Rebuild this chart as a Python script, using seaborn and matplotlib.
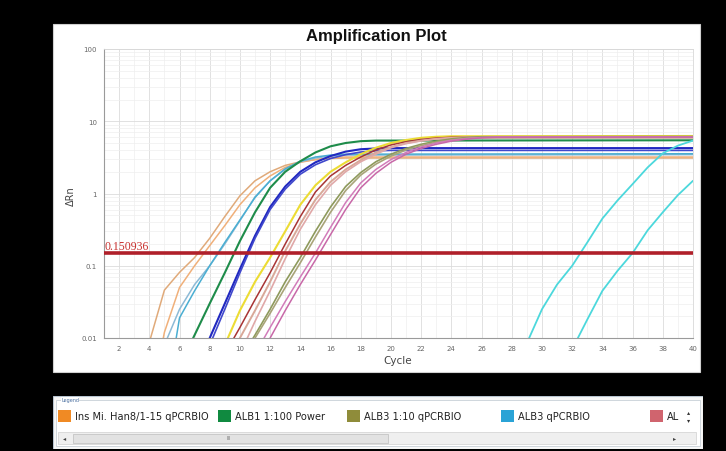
import matplotlib
matplotlib.use("Agg")
import matplotlib.pyplot as plt
import seaborn as sns
import pandas as pd
from matplotlib.patches import Rectangle

# ---------------- data (ΔRn) ----------------
# each list starts at the given cycle, one value per cycle; the last value is ΔRn at cycle 40
ins_a_start = 4
ins_a = [0.0087, 0.046, 0.081, 0.13, 0.24, 0.48, 0.93, 1.5, 2.0, 2.45, 2.75, 2.95, 3.05, 3.1, 3.1]
ins_b_start = 4
ins_b = [0.001, 0.012, 0.05, 0.1, 0.19, 0.36, 0.7, 1.2, 1.75, 2.3, 2.7, 2.95, 3.1, 3.2, 3.2]
alb3q_a_start = 5
alb3q_a = [0.008, 0.025, 0.055, 0.1, 0.2, 0.42, 0.9, 1.5, 2.15, 2.75, 3.1, 3.3, 3.4, 3.45]
alb3q_b_start = 5
alb3q_b = [0.001, 0.019, 0.045, 0.1, 0.21, 0.43, 0.88, 1.5, 2.2, 2.8, 3.2, 3.4, 3.5, 3.55]
alb1_start = 6
alb1 = [0.004, 0.011, 0.03, 0.08, 0.22, 0.55, 1.2, 2.0, 2.8, 3.7, 4.5, 5.0, 5.3, 5.4, 5.45]
blue_a_start = 7
blue_a = [0.003, 0.01, 0.03, 0.09, 0.26, 0.65, 1.25, 2.0, 2.7, 3.3, 3.8, 4.1, 4.2, 4.25, 4.25]
blue_b_start = 7
blue_b = [0.0025, 0.008, 0.025, 0.08, 0.24, 0.6, 1.15, 1.85, 2.5, 3.05, 3.45, 3.75, 3.9, 3.95, 3.95]
yellow_start = 8
yellow = [0.003, 0.008, 0.024, 0.06, 0.13, 0.3, 0.7, 1.3, 2.0, 2.7, 3.5, 4.3, 5.0, 5.5, 5.9, 6.1, 6.2, 6.25]
darkred_start = 9
darkred = [0.006, 0.014, 0.034, 0.08, 0.2, 0.48, 1.05, 1.75, 2.45, 3.2, 4.0, 4.7, 5.2, 5.6, 5.85, 6.0, 6.05]
rose_a_start = 9
rose_a = [0.004, 0.01, 0.024, 0.06, 0.16, 0.38, 0.82, 1.45, 2.15, 2.9, 3.7, 4.4, 5.0, 5.4, 5.7, 5.85, 5.9, 5.9]
rose_b_start = 10
rose_b = [0.006, 0.017, 0.045, 0.125, 0.32, 0.7, 1.3, 2.0, 2.75, 3.5, 4.3, 4.9, 5.35, 5.7, 5.9, 6.0, 6.05]
olive_a_start = 10
olive_a = [0.005, 0.011, 0.025, 0.06, 0.13, 0.3, 0.65, 1.25, 1.95, 2.75, 3.5, 4.2, 4.8, 5.3, 5.7, 5.95, 6.1, 6.15]
olive_b_start = 11
olive_b = [0.01, 0.022, 0.05, 0.11, 0.25, 0.55, 1.1, 1.8, 2.55, 3.3, 4.0, 4.6, 5.1, 5.5, 5.8, 5.95, 6.0]
pink_a_start = 11
pink_a = [0.006, 0.014, 0.032, 0.07, 0.15, 0.34, 0.75, 1.4, 2.15, 2.95, 3.7, 4.4, 5.0, 5.45, 5.75, 5.95, 6.05, 6.1]
pink_b_start = 12
pink_b = [0.01, 0.024, 0.055, 0.12, 0.27, 0.6, 1.2, 1.9, 2.7, 3.5, 4.2, 4.8, 5.3, 5.65, 5.9, 6.0, 6.05]
cyan_a_start = 28
cyan_a = [0.003, 0.0085, 0.025, 0.055, 0.1, 0.21, 0.45, 0.8, 1.35, 2.3, 3.6, 4.6, 5.4]
cyan_b_start = 31
cyan_b = [0.003, 0.007, 0.018, 0.045, 0.085, 0.15, 0.31, 0.55, 0.95, 1.5]

threshold = 0.150936
threshold_label = "0.150936"

legend_names = ["Ins Mi. Han8/1-15 qPCRBIO", "ALB1 1:100 Power", "ALB3 1:10 qPCRBIO",
                "ALB3 qPCRBIO", "AL"]
legend_colors = ["#f08a24", "#108a40", "#8f8c3a", "#2aa3d6", "#d0646e"]

x_ticks = list(range(2, 41, 2))
y_ticks = [0.01, 0.1, 1, 10, 100]
y_tick_labels = ["0.01", "0.1", "1", "10", "100"]

# ---------------- build long table ----------------
curves = [
    ("ins_a", ins_a_start, ins_a, "#e0aa7a", 1.1),
    ("ins_b", ins_b_start, ins_b, "#f0b07a", 1.1),
    ("alb3q_a", alb3q_a_start, alb3q_a, "#8cbad6", 1.1),
    ("alb3q_b", alb3q_b_start, alb3q_b, "#4aaed2", 1.1),
    ("alb1", alb1_start, alb1, "#1e8c4a", 1.5),
    ("blue_a", blue_a_start, blue_a, "#2028c0", 1.5),
    ("blue_b", blue_b_start, blue_b, "#4048cc", 1.2),
    ("yellow", yellow_start, yellow, "#ecdc34", 1.5),
    ("darkred", darkred_start, darkred, "#a83434", 1.1),
    ("rose_a", rose_a_start, rose_a, "#d8a898", 1.4),
    ("rose_b", rose_b_start, rose_b, "#e0a8a8", 1.2),
    ("olive_a", olive_a_start, olive_a, "#8e9a5c", 1.2),
    ("olive_b", olive_b_start, olive_b, "#a8a478", 1.2),
    ("pink_a", pink_a_start, pink_a, "#d27cba", 1.1),
    ("pink_b", pink_b_start, pink_b, "#c868a8", 1.1),
    ("cyan_a", cyan_a_start, cyan_a, "#4cd8dc", 1.3),
    ("cyan_b", cyan_b_start, cyan_b, "#4cd8dc", 1.3),
]
rows = []
for name, start, vals, _, _ in curves:
    cyc = list(range(start, start + len(vals) - 1)) + [40]
    for c, v in zip(cyc, vals):
        rows.append({"well": name, "cycle": c, "drn": v})
df = pd.DataFrame(rows)
palette = {c[0]: c[3] for c in curves}
widths = {c[0]: c[4] for c in curves}

# ---------------- figure ----------------
sns.set_theme(style="white")
plt.rcParams["font.family"] = ["DejaVu Sans"]
W, H = 726, 452
fig = plt.figure(figsize=(W / 100, H / 100), dpi=100, facecolor="black")

def fx(px):
    return px / W

def fy(py):
    return 1 - py / H

# white panel behind the plot
fig.patches.append(Rectangle((fx(53), fy(373)), fx(647), 348 / H, transform=fig.transFigure,
                             facecolor="white", edgecolor="#d0d0d0", lw=0.8, zorder=-5))

ax = fig.add_axes([fx(104), fy(339), fx(589), 289 / H])
ax.set_zorder(2)
ax.set_facecolor("white")
sns.lineplot(data=df, x="cycle", y="drn", hue="well", palette=palette, estimator=None,
             sort=True, legend=False, ax=ax, linewidth=1.1)
for line, (name, *_rest) in zip(ax.lines, curves):
    line.set_linewidth(widths[name])
ax.set_yscale("log")
ax.set_xlim(1, 40)
ax.set_ylim(0.01, 100)
ax.set_xticks(x_ticks)
ax.set_xticks(range(1, 41), minor=True)
ax.set_xticklabels([str(t) for t in x_ticks])
ax.set_yticks(y_ticks)
ax.set_yticklabels(y_tick_labels)
ax.tick_params(axis="both", which="major", labelsize=5, colors="#666666", length=2, width=0.6, pad=3)
ax.tick_params(axis="both", which="minor", length=0)
ax.grid(which="major", color="#dcdcdc", lw=0.6)
ax.grid(which="minor", color="#eeeeee", lw=0.5)
ax.set_axisbelow(True)
ax.set_xlabel("")
ax.set_ylabel("")
for s in ["left", "bottom"]:
    ax.spines[s].set_color("#9a9a9a")
    ax.spines[s].set_linewidth(0.8)
for s in ["top", "right"]:
    ax.spines[s].set_color("#d8d8d8")
    ax.spines[s].set_linewidth(0.6)

ax.axhline(threshold, color="#b0202a", lw=2.6, zorder=5)
ax.text(1.05, threshold * 1.04, threshold_label, color="#c8302e", fontsize=8.5,
        family="Liberation Serif", ha="left", va="bottom", zorder=6)

fig.text(fx(376), fy(37), "Amplification Plot", family="Liberation Sans", weight="bold",
         fontsize=12, ha="center", va="center", color="#111111")
fig.text(fx(71), fy(196), "ΔRn", rotation=90, fontsize=7, ha="center", va="center", color="#444444")
fig.text(fx(398), fy(361), "Cycle", fontsize=7.5, ha="center", va="center", color="#444444")

# ---------------- legend panel ----------------
lx0, ly0, lw_, lh_ = 53, 397, 650, 53
lax = fig.add_axes([fx(lx0), fy(ly0 + lh_), fx(lw_), lh_ / H])
lax.set_xlim(0, lw_)
lax.set_ylim(lh_, 0)
lax.axis("off")
lax.add_patch(Rectangle((0, 0), lw_, lh_, facecolor="#f7f7f7", edgecolor="#b8c4d0", lw=0.8))
lax.add_patch(Rectangle((3, 4), lw_ - 6, lh_ - 7, facecolor="white", edgecolor="#c8d0d8", lw=0.6))
lax.text(8, 3.5, "Legend", fontsize=3.5, color="#4a6fa0", va="center", ha="left",
         bbox=dict(facecolor="white", edgecolor="none", pad=0.3))
swatch_x = [5, 165, 294, 448, 597]
for sx, name, col in zip(swatch_x, legend_names, legend_colors):
    lax.add_patch(Rectangle((sx, 14), 13, 12, facecolor=col, edgecolor="none"))
    lax.text(sx + 17, 20.5, name, fontsize=7.1, color="#222222", va="center", ha="left")
lax.text(636, 16, "▴", fontsize=4.5, color="#333333", ha="center", va="center")
lax.text(636, 24, "▾", fontsize=4.5, color="#333333", ha="center", va="center")
# horizontal scroll bar
lax.add_patch(Rectangle((5, 36), 638, 12, facecolor="#efefef", edgecolor="#d0d0d0", lw=0.5))
lax.add_patch(Rectangle((20, 37.5), 315, 9, facecolor="#e2e2e2", edgecolor="#bdbdbd", lw=0.5))
lax.text(12, 42, "◂", fontsize=4.5, color="#444444", ha="center", va="center")
lax.text(176, 42, "III", fontsize=3.5, color="#777777", ha="center", va="center")
lax.text(622, 42, "▸", fontsize=4.5, color="#444444", ha="center", va="center")

fig.savefig("out.png", dpi=100, facecolor="black")
